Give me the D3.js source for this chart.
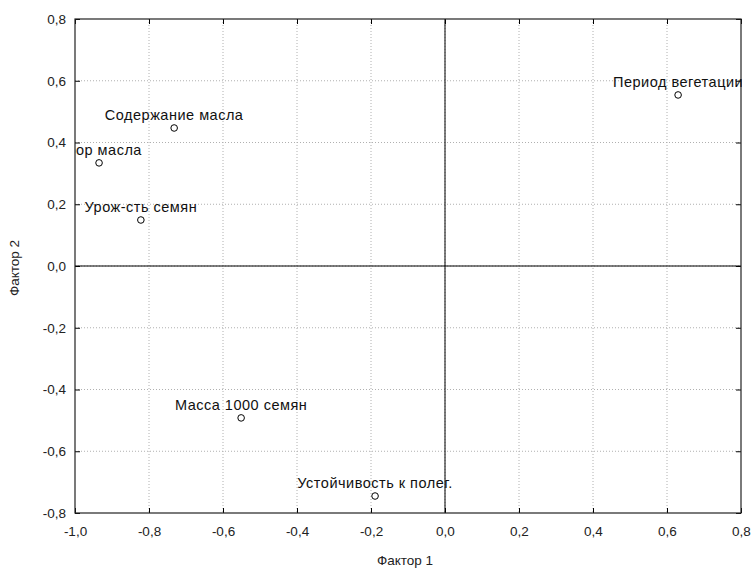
<!DOCTYPE html>
<html>
<head>
<meta charset="utf-8">
<script src="https://cdn.jsdelivr.net/npm/d3@7"></script>
<style>
  body { margin: 0; background: #fff; }
  svg { font-family: "Liberation Sans", Arial, sans-serif; }
</style>
</head>
<body>
<div id="chart"></div>
<script>
// variable names and factor loadings
const names = ["Период вегетации", "Содержание масла", "Сбор масла", "Урож-сть семян", "Масса 1000 семян", "Устойчивость к полег."];
const factor1 = [0.630, -0.732, -0.935, -0.822, -0.551, -0.189];
const factor2 = [0.554, 0.447, 0.334, 0.149, -0.492, -0.745];
const xTicks = [-1.0, -0.8, -0.6, -0.4, -0.2, 0.0, 0.2, 0.4, 0.6, 0.8];
const yTicks = [-0.8, -0.6, -0.4, -0.2, 0.0, 0.2, 0.4, 0.6, 0.8];

const W = 754, H = 569;
const margin = {top: 19, right: 13, bottom: 56, left: 75};
const chtW = W - margin.left - margin.right;
const chtH = H - margin.top - margin.bottom;

const svg = d3.select("#chart").append("svg").attr("width", W).attr("height", H);
const g = svg.append("g").attr("transform", "translate(" + margin.left + "," + margin.top + ")");

const x = d3.scaleLinear().domain([-1, 0.8]).range([0, chtW]);
const y = d3.scaleLinear().domain([-0.8, 0.8]).range([chtH, 0]);
const fmt = d => d3.format(".1f")(d).replace(".", ",").replace("−", "-");

// grid
g.append("g").selectAll("line").data(xTicks.slice(1, -1)).join("line")
  .attr("x1", d => x(d)).attr("x2", d => x(d)).attr("y1", 0).attr("y2", chtH)
  .attr("stroke", "#b0b0b0").attr("stroke-dasharray", "1,2");
g.append("g").selectAll("line").data(yTicks.slice(1, -1)).join("line")
  .attr("y1", d => y(d)).attr("y2", d => y(d)).attr("x1", 0).attr("x2", chtW)
  .attr("stroke", "#b0b0b0").attr("stroke-dasharray", "1,2");

// zero lines
g.append("line").attr("x1", x(0)).attr("x2", x(0)).attr("y1", 0).attr("y2", chtH).attr("stroke", "#000");
g.append("line").attr("y1", y(0)).attr("y2", y(0)).attr("x1", 0).attr("x2", chtW).attr("stroke", "#000");

// axes with inward ticks
const axB = g.append("g").attr("transform", "translate(0," + chtH + ")")
  .call(d3.axisBottom(x).tickValues(xTicks).tickSizeInner(-5).tickSizeOuter(0).tickPadding(13).tickFormat(fmt));
const axT = g.append("g")
  .call(d3.axisTop(x).tickValues(xTicks).tickSizeInner(-5).tickSizeOuter(0).tickFormat(""));
const axL = g.append("g")
  .call(d3.axisLeft(y).tickValues(yTicks).tickSizeInner(-5).tickSizeOuter(0).tickPadding(9).tickFormat(fmt));
const axR = g.append("g").attr("transform", "translate(" + chtW + ",0)")
  .call(d3.axisRight(y).tickValues(yTicks).tickSizeInner(-5).tickSizeOuter(0).tickFormat(""));
[axB, axT, axL, axR].forEach(a => {
  a.select(".domain").remove();
  a.selectAll("line").attr("stroke", "#000");
  a.selectAll("text").attr("font-size", 13.5).attr("fill", "#222")
    .attr("font-family", "'Liberation Sans', Arial, sans-serif");
});

// frame
g.append("rect").attr("width", chtW).attr("height", chtH)
  .attr("fill", "none").attr("stroke", "#222").attr("stroke-width", 1.2);

// points and labels, clipped to plot
svg.append("defs").append("clipPath").attr("id", "clip")
  .append("rect").attr("width", chtW + 1).attr("height", chtH);
const pts = g.append("g").attr("clip-path", "url(#clip)");
const data = names.map((n, i) => ({name: n, f1: factor1[i], f2: factor2[i]}));

pts.selectAll("circle").data(data).join("circle")
  .attr("cx", d => x(d.f1)).attr("cy", d => y(d.f2)).attr("r", 3.3)
  .attr("fill", "#fff").attr("stroke", "#000").attr("stroke-width", 1);

pts.selectAll("text").data(data).join("text")
  .attr("x", d => x(d.f1)).attr("y", d => y(d.f2) - 8)
  .attr("text-anchor", "middle").attr("font-size", 14.5).attr("letter-spacing", 0.5)
  .attr("fill", "#111")
  .text(d => d.name);

// axis titles
svg.append("text").attr("x", margin.left + chtW / 2 - 3).attr("y", 565)
  .attr("text-anchor", "middle").attr("font-size", 13.5).attr("fill", "#222").text("Фактор 1");
svg.append("text").attr("transform", "translate(19," + (margin.top + chtH / 2 + 2) + ") rotate(-90)")
  .attr("text-anchor", "middle").attr("font-size", 13.5).attr("fill", "#222").text("Фактор 2");
</script>
</body>
</html>
